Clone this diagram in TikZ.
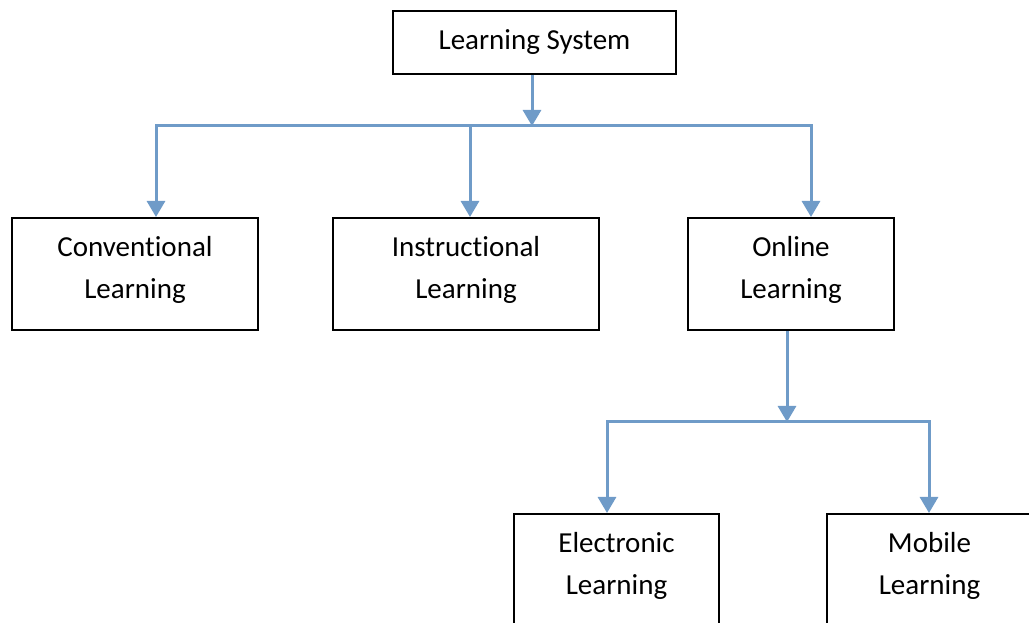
\documentclass[tikz,border=0pt]{standalone}
\usepackage{fontspec}
\setmainfont{Carlito}[Ligatures=NoCommon]
\usetikzlibrary{arrows.meta,calc}
\definecolor{linkblue}{HTML}{6F9BC8}
\newcommand\lowpad{\rule[-10.5pt]{0pt}{10.5pt}}
\begin{document}
\begin{tikzpicture}[x=0.75pt,y=-0.75pt,
  box/.style={draw=black,line width=1.5pt,rectangle,inner sep=0pt,align=center,
    font=\fontsize{21.75pt}{31.5pt}\selectfont},
  arr/.style={draw=linkblue,line width=2.25pt,-{Triangle[width=13.5pt,length=12pt]}}]
\useasboundingbox (0,0) rectangle (1029,623);
\clip (0,0) rectangle (1029,623);
\node[box,minimum width=212.25pt,minimum height=47.25pt] (sys) at (534.5,42.5) {Learning System};
\node[box,minimum width=184.5pt,minimum height=84pt] (conv) at (135,274) {Conventional\\Learning\lowpad};
\node[box,minimum width=199.5pt,minimum height=84pt] (inst) at (466,274) {Instructional\\Learning\lowpad};
\node[box,minimum width=154.5pt,minimum height=84pt] (onl) at (791,274) {Online\\Learning\lowpad};
\node[box,minimum width=153.75pt,minimum height=84pt] (elec) at (616.5,570) {Electronic\\Learning\lowpad};
\node[box,minimum width=153.75pt,minimum height=84pt] (mob) at (929.5,570) {Mobile\\Learning\lowpad};
\coordinate (j1) at (532,126);
\coordinate (j2) at (787,422);
\draw[arr] (sys.south -| j1) -- (j1);
\draw[arr] (j1) -| ($(conv.north)+(21,0)$);
\draw[arr] (j1) -| ($(inst.north)+(4,0)$);
\draw[arr] (j1) -| ($(onl.north)+(20,0)$);
\draw[arr] (onl.south -| j2) -- (j2);
\draw[arr] (j2) -| ($(elec.north)+(-9.5,0)$);
\draw[arr] (j2) -| ($(mob.north)+(-0.5,0)$);
\end{tikzpicture}
\end{document}
